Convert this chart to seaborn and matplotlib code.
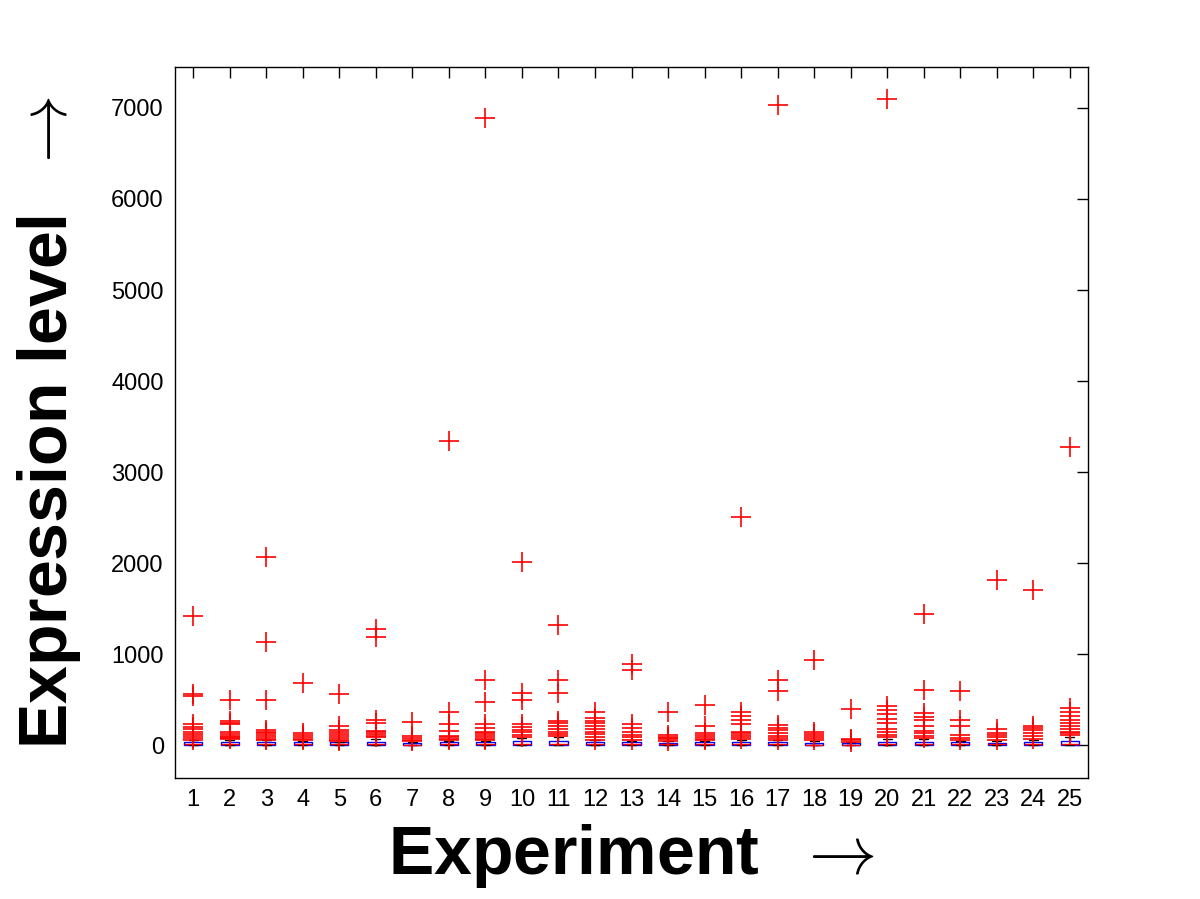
import numpy as np
import pandas as pd
import matplotlib
matplotlib.use('Agg')
import matplotlib.pyplot as plt
import seaborn as sns

# Experiment ids
experiments = list(range(1, 26))

# Box summaries: [whisker low, q1, median, q3, whisker high]
box_stats = [
    [0, 2, 8, 30, 60], [0, 2, 8, 30, 60], [0, 2, 8, 30, 55], [0, 2, 8, 30, 50], [0, 2, 8, 30, 40],
    [0, 3, 10, 38, 65], [0, 2, 6, 25, 40], [0, 2, 8, 30, 50], [0, 2, 8, 32, 50], [0, 3, 10, 45, 80],
    [0, 3, 10, 45, 90], [0, 2, 8, 30, 55], [0, 2, 8, 30, 50], [0, 2, 8, 28, 45], [0, 2, 8, 30, 50],
    [0, 2, 8, 32, 60], [0, 2, 8, 32, 55], [0, 2, 6, 25, 45], [0, 2, 6, 22, 35], [0, 3, 10, 35, 65],
    [0, 2, 8, 32, 70], [0, 2, 8, 30, 50], [0, 2, 8, 28, 50], [0, 2, 8, 32, 60], [0, 4, 12, 50, 95],
]

# Outliers ('+' markers) per experiment
outliers = [
    [1420, 560, 545, 230, 200, 180, 150, 120, 100, 80, 60],
    [500, 270, 240, 230, 140, 120, 100, 90, 80, 70],
    [2070, 1130, 500, 170, 150, 130, 110, 90, 70, 60],
    [680, 130, 110, 90, 70, 55],
    [560, 210, 170, 140, 120, 100, 80, 60, 45],
    [1280, 1190, 280, 240, 160, 140, 120, 100, 85],
    [250, 100, 80, 60, 45],
    [3340, 360, 230, 160, 100, 85, 70, 55],
    [6890, 720, 480, 230, 190, 150, 130, 110, 90, 70, 55],
    [2010, 570, 500, 230, 200, 170, 140, 110, 90],
    [1320, 720, 575, 270, 240, 210, 180, 150, 120, 100],
    [370, 300, 270, 240, 210, 180, 150, 120, 90, 60],
    [890, 825, 230, 190, 150, 110, 85, 60],
    [365, 110, 95, 80, 65, 50],
    [440, 210, 130, 110, 90, 70, 55],
    [2510, 365, 320, 275, 230, 150, 130, 110, 90, 70],
    [7030, 720, 600, 220, 190, 165, 130, 100, 80, 60],
    [940, 150, 120, 100, 80, 60],
    [400, 70, 55, 40],
    [7100, 430, 390, 340, 290, 240, 180, 145, 110, 85],
    [1440, 610, 355, 310, 275, 210, 160, 130, 100, 80],
    [600, 275, 210, 110, 80, 60],
    [1810, 180, 135, 110, 85, 60],
    [1700, 210, 190, 165, 130, 100, 70],
    [3280, 410, 365, 320, 275, 240, 210, 180, 150, 130, 110],
]

y_ticks = [0, 1000, 2000, 3000, 4000, 5000, 6000, 7000]

box_df = pd.DataFrame(
    [(e, v) for e, s in zip(experiments, box_stats) for v in s],
    columns=['experiment', 'value'])
out_df = pd.DataFrame(
    [(e, v) for e, o in zip(experiments, outliers) for v in o],
    columns=['experiment', 'value'])

sns.set_style('white')
plt.rcParams['font.family'] = ['Liberation Sans', 'DejaVu Sans']
plt.rcParams['mathtext.fontset'] = 'cm'
plt.rcParams['text.color'] = 'black'
plt.rcParams['axes.labelcolor'] = 'black'

fig = plt.figure(figsize=(12, 8.99), dpi=100)
ax = fig.add_axes([0.1458, 0.1346, 0.7609, 0.7909])

sns.boxplot(data=box_df, x='experiment', y='value', native_scale=True,
            whis=(0, 100), showfliers=False, width=0.5, ax=ax,
            boxprops=dict(facecolor='white', edgecolor='#0000ff', linewidth=1.0),
            medianprops=dict(color='#ff0000', linewidth=1.0),
            whiskerprops=dict(color='black', linestyle='--', linewidth=1.0),
            capprops=dict(color='black', linewidth=1.0))

sns.scatterplot(data=out_df, x='experiment', y='value', marker='+', s=190,
                color='#ff0000', linewidth=1.2, ax=ax, zorder=5)

ax.set_xlim(0.5, 25.5)
ax.set_ylim(-360, 7450)
ax.set_xticks(experiments)
ax.set_xticklabels([str(e) for e in experiments])
ax.set_yticks(y_ticks)
ax.set_yticklabels([str(t) for t in y_ticks])
ax.tick_params(direction='in', length=8, width=1.0, top=True, right=True,
               labelsize=17, colors='black', pad=8)

for sp in ax.spines.values():
    sp.set_color('black')
    sp.set_linewidth(1.0)
    sp.set_visible(True)

ax.set_xlabel(r'Experiment  $\rightarrow$', fontsize=49, fontweight='bold',
              color='black', labelpad=8)
ax.set_ylabel(r'Expression level  $\rightarrow$', fontsize=49, fontweight='bold',
              color='black', labelpad=20)

fig.savefig('out.png', dpi=100, facecolor='white')
